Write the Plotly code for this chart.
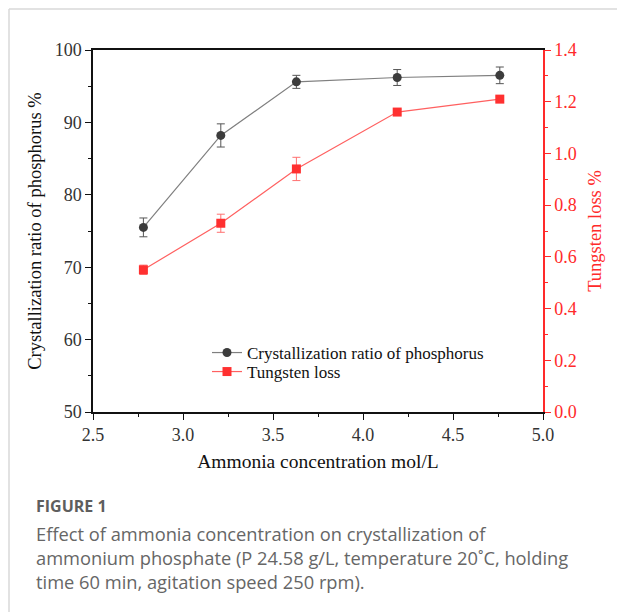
import plotly.graph_objects as go

# ---- data ----
ammonia = [2.78, 3.21, 3.63, 4.19, 4.76]
p_ratio = [75.5, 88.2, 95.6, 96.2, 96.5]
p_err = [1.3, 1.6, 0.9, 1.1, 1.15]
w_loss = [0.55, 0.73, 0.94, 1.16, 1.21]
w_err = [0.018, 0.035, 0.045, 0.01, 0.01]

W, H = 617, 612
L, R, T, B = 93, 543, 50, 412


def px(x):
    return (x - L) / (R - L)


def py(y):
    return (B - y) / (B - T)


serif = "Liberation Serif, Times New Roman, serif"
red = "#ff2a2a"

fig = go.Figure()
fig.add_trace(go.Scatter(
    x=ammonia, y=p_ratio, name="Crystallization ratio of phosphorus",
    mode="lines+markers",
    line=dict(color="#7f7f7f", width=1.2),
    marker=dict(symbol="circle", size=9, color="#3c3c3c"),
    error_y=dict(type="data", array=p_err, color="#555555", thickness=1, width=4),
    yaxis="y", legend="legend"))
fig.add_trace(go.Scatter(
    x=ammonia, y=w_loss, name="Tungsten loss",
    mode="lines+markers",
    line=dict(color="#ff6060", width=1.2),
    marker=dict(symbol="square", size=9, color="#ff3030"),
    error_y=dict(type="data", array=w_err, color="#ff7070", thickness=1, width=4),
    yaxis="y2", legend="legend2"))

leg_font = dict(family=serif, size=17, color="#111111")
fig.update_layout(
    width=W, height=H,
    margin=dict(l=L, r=W - R, t=T, b=H - B),
    paper_bgcolor="white", plot_bgcolor="white",
    font=dict(family=serif, size=18, color="#222222"),
    showlegend=True,
    legend=dict(x=px(207), y=py(353), xanchor="left", yanchor="middle",
                bgcolor="rgba(0,0,0,0)", font=leg_font, itemsizing="trace"),
    legend2=dict(x=px(207), y=py(372), xanchor="left", yanchor="middle",
                 bgcolor="rgba(0,0,0,0)", font=leg_font, itemsizing="trace"),
    xaxis=dict(range=[2.5, 5.0], dtick=0.5, tickformat=".1f",
               showline=True, linecolor="#111111", linewidth=1.5, mirror=True,
               ticks="outside", ticklen=6, tickcolor="#111111", tickwidth=1.2,
               minor=dict(ticks="outside", ticklen=3, dtick=0.25, tickcolor="#111111"),
               showgrid=False, zeroline=False, tickfont=dict(family=serif, size=18, color="#333333"),
               title=dict(text="Ammonia concentration mol/L", font=dict(family=serif, size=19.5, color="#111111"), standoff=10)),
    yaxis=dict(range=[50, 100], dtick=10,
               showline=True, linecolor="#111111", linewidth=1.5,
               ticks="outside", ticklen=6, tickcolor="#111111", tickwidth=1.2,
               minor=dict(ticks="outside", ticklen=3, dtick=5, tickcolor="#111111"),
               showgrid=False, zeroline=False, tickfont=dict(family=serif, size=18, color="#333333"),
               title=dict(text="Crystallization ratio of phosphorus %", font=dict(family=serif, size=18.5, color="#111111"), standoff=8)),
    yaxis2=dict(range=[0, 1.4], dtick=0.2, tickformat=".1f", overlaying="y", side="right",
                showline=True, linecolor=red, linewidth=1.5,
                ticks="outside", ticklen=6, tickcolor=red, tickwidth=1.2,
                minor=dict(ticks="outside", ticklen=3, dtick=0.1, tickcolor=red),
                showgrid=False, zeroline=False, tickfont=dict(family=serif, size=18, color=red),
                title=dict(text="Tungsten loss %", font=dict(family=serif, size=18.5, color=red), standoff=12)),
)

# page border lines
fig.add_shape(type="line", xref="paper", yref="paper", x0=px(9), x1=px(617), y0=py(9), y1=py(9),
              line=dict(color="#d9d9d9", width=1.5))
fig.add_shape(type="line", xref="paper", yref="paper", x0=px(9), x1=px(9), y0=py(9), y1=py(612),
              line=dict(color="#d9d9d9", width=1.5))

cap_font = "Open Sans, Noto Sans, sans-serif"
fig.add_annotation(text="<b>FIGURE 1</b>", xref="paper", yref="paper", x=px(34), y=py(506),
                   xanchor="left", yanchor="middle", showarrow=False,
                   font=dict(family=cap_font, size=16, color="#5e5e5e"))
caption = ["Effect of ammonia concentration on crystallization of",
           "ammonium phosphate (P 24.58 g/L, temperature 20˚C, holding",
           "time 60 min, agitation speed 250 rpm)."]
for i, line in enumerate(caption):
    fig.add_annotation(text=line, xref="paper", yref="paper", x=px(34), y=py(533 + 24 * i),
                       xanchor="left", yanchor="middle", showarrow=False,
                       font=dict(family=cap_font, size=18.3, color="#666666"))

fig.write_html("out.html")
